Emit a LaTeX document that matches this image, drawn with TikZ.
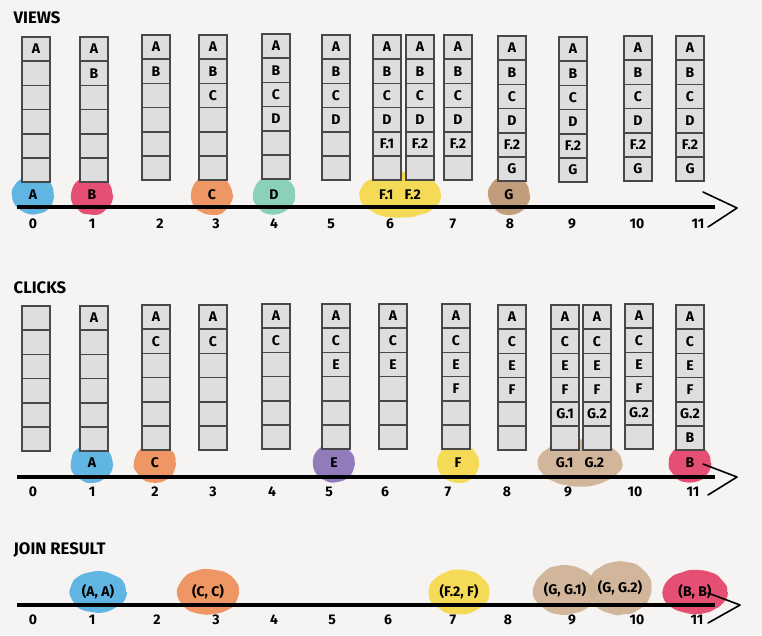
\documentclass[tikz,border=0pt]{standalone}
\usepackage{fontspec}
\setmainfont{Fira Sans}
\usetikzlibrary{shapes.geometric,decorations.pathmorphing,calc}
\definecolor{bgc}{RGB}{245,244,242}
\definecolor{cellfill}{RGB}{222,222,222}
\definecolor{celldraw}{RGB}{72,72,72}
\definecolor{bblue}{RGB}{80,175,225}
\definecolor{bred}{RGB}{228,62,102}
\definecolor{borange}{RGB}{238,140,85}
\definecolor{bteal}{RGB}{128,205,180}
\definecolor{byellow}{RGB}{246,216,72}
\definecolor{bbrown}{RGB}{188,148,112}
\definecolor{btan}{RGB}{206,176,146}
\definecolor{bpurple}{RGB}{135,110,182}
\newcommand\stackcol[4]{%
  \foreach \t [count=\i] in {#4} {
    \node[cell] (#1-\i) at ({#2+14},{#3+(\i-0.5)*24.2}) {\t};
  }%
}
\begin{document}
\begin{tikzpicture}[x=0.75pt,y=-0.75pt,
  cell/.style={draw=celldraw,fill=cellfill,line width=1.3pt,minimum width=21pt,minimum height=18.15pt,inner sep=0pt,font=\bfseries\fontsize{10.5}{11}\selectfont},
  blob/.style={ellipse,inner sep=0pt,fill opacity=0.9,text opacity=1,font=\bfseries\fontsize{10.5}{11}\selectfont,
    decorate,decoration={random steps,segment length=4pt,amplitude=0.6pt},rounded corners=2pt},
  small/.style={blob,minimum width=31pt,minimum height=29pt},
  axisline/.style={line width=2.4pt,black},
  chev/.style={line width=1.2pt,black,line cap=round,line join=round},
  tick/.style={font=\bfseries\fontsize{10.5}{11}\selectfont},
  title/.style={anchor=west,font=\bfseries\fontsize{12.5}{14}\selectfont}]
\pgfmathsetseed{7}
\fill[bgc] (0,0) rectangle (762,635);
\useasboundingbox (0,0) rectangle (762,635);

% titles
\node[title] (tviews) at (9,18) {VIEWS};
\node[title] (tclicks) at (9,288) {CLICKS};
\node[title] (tjoin) at (9,550) {JOIN RESULT};

% ---------- VIEWS blobs ----------
\node[small,fill=bblue] (vbA) at (33,195) {A};
\node[small,fill=bred] (vbB) at (92,195) {B};
\node[small,fill=borange] (vbC) at (212,195) {C};
\node[small,fill=bteal] (vbD) at (274,195) {D};
\node[blob,fill=byellow,minimum width=61pt,minimum height=34pt] (vbF) at (400,195) {F.1\hspace{0.8em}F.2};
\node[small,fill=bbrown] (vbG) at (509,195) {G};

% views axis
\coordinate (va0) at (17,207);
\coordinate (va1) at (715,207);
\coordinate (vtip) at (737,208);
\draw[axisline] (va0) -- (va1);
\draw[chev] ($(vtip)+(-34,-16)$) -- (vtip) -- ($(vtip)+(-29,19)$);
\foreach \n/\x in {0/33,1/92,2/160,3/216,4/274,5/331,6/390,7/453,8/510,9/572,10/637,11/698}
  \node[tick] (vt\n) at (\x,224) {\n};

% views columns
\stackcol{v0}{22}{37}{A,{},{},{},{},{}}
\stackcol{v1}{80}{37}{A,B,{},{},{},{}}
\stackcol{v2}{142}{35}{A,B,{},{},{},{}}
\stackcol{v3}{199}{35}{A,B,C,{},{},{}}
\stackcol{v4}{262}{34}{A,B,C,D,{},{}}
\stackcol{v5}{322}{35}{A,B,C,D,{},{}}
\stackcol{v6a}{373}{35}{A,B,C,D,F.1,{}}
\stackcol{v6b}{406}{35}{A,B,C,D,F.2,{}}
\stackcol{v7}{444}{35}{A,B,C,D,F.2,{}}
\stackcol{v8}{498}{36}{A,B,C,D,F.2,G}
\stackcol{v9}{559}{37}{A,B,C,D,F.2,G}
\stackcol{v10}{624}{36}{A,B,C,D,F.2,G}
\stackcol{v11}{676}{36}{A,B,C,D,F.2,G}

% ---------- CLICKS blobs ----------
\node[small,fill=bblue] (cbA) at (92,463) {A};
\node[small,fill=borange] (cbC) at (155,463) {C};
\node[small,fill=bpurple] (cbE) at (334,463) {E};
\node[small,fill=byellow] (cbF) at (458,463) {F};
\node[blob,fill=btan,minimum width=63pt,minimum height=35pt] (cbG) at (580,463) {G.1\hspace{0.8em}G.2};
\node[small,fill=bred] (cbB) at (690,463) {B};

% clicks axis
\coordinate (ca0) at (17,477);
\coordinate (ca1) at (715,477);
\coordinate (ctip) at (737,477);
\draw[axisline] (ca0) -- (ca1);
\draw[chev] ($(ctip)+(-34,-13)$) -- (ctip) -- ($(ctip)+(-29,18)$);
\foreach \n/\x in {0/33,1/92,2/155,3/213,4/272,5/329,6/385,7/448,8/507,9/568,10/635,11/693}
  \node[tick] (ct\n) at (\x,492) {\n};

% clicks columns
\stackcol{c0}{22}{306}{{},{},{},{},{},{}}
\stackcol{c1}{80}{306}{A,{},{},{},{},{}}
\stackcol{c2}{142}{305}{A,C,{},{},{},{}}
\stackcol{c3}{199}{305}{A,C,{},{},{},{}}
\stackcol{c4}{262}{304}{A,C,{},{},{},{}}
\stackcol{c5}{322}{304}{A,C,E,{},{},{}}
\stackcol{c6}{379}{304}{A,C,E,{},{},{}}
\stackcol{c7}{442}{304}{A,C,E,F,{},{}}
\stackcol{c8}{498}{305}{A,C,E,F,{},{}}
\stackcol{c9a}{551}{305}{A,C,E,F,G.1,{}}
\stackcol{c9b}{583}{305}{A,C,E,F,G.2,{}}
\stackcol{c10}{625}{304}{A,C,E,F,G.2,{}}
\stackcol{c11}{676}{305}{A,C,E,F,G.2,B}

% ---------- JOIN RESULT ----------
\node[blob,fill=bblue,minimum width=42pt,minimum height=31pt] (jA) at (98,592) {(A, A)};
\node[blob,fill=borange,minimum width=46pt,minimum height=34pt] (jC) at (208,592) {(C, C)};
\node[blob,fill=byellow,minimum width=45pt,minimum height=33pt] (jF) at (459,592) {(F.2, F)};
\node[blob,fill=btan,minimum width=47pt,minimum height=37pt] (jG1) at (565,590) {(G, G.1)};
\node[blob,fill=btan,minimum width=47pt,minimum height=40pt] (jG2) at (620,588) {(G, G.2)};
\node[blob,fill=bred,minimum width=48pt,minimum height=33pt] (jB) at (695,592) {(B, B)};

\coordinate (ja0) at (17,605);
\coordinate (ja1) at (715,605);
\coordinate (jtip) at (740,605);
\draw[axisline] (ja0) -- (ja1);
\draw[chev] ($(jtip)+(-32,-12)$) -- (jtip) -- ($(jtip)+(-32,18)$);
\foreach \n/\x in {0/33,1/92,2/157,3/216,4/274,5/332,6/388,7/453,8/508,9/572,10/637,11/697}
  \node[tick] (jt\n) at (\x,620) {\n};
\end{tikzpicture}
\end{document}
